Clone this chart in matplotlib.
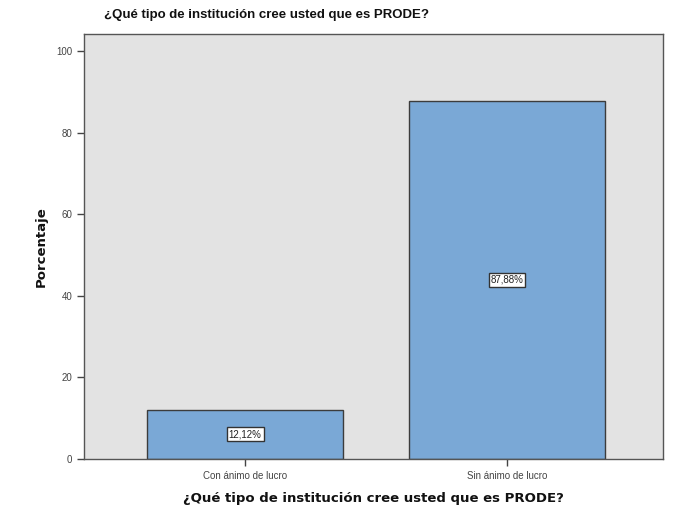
import matplotlib.pyplot as plt

categorias = ["Con ánimo de lucro", "Sin ánimo de lucro"]
porcentajes = [12.12, 87.88]
etiquetas = ["12,12%", "87,88%"]
yticks = [0, 20, 40, 60, 80, 100]

titulo = "¿Qué tipo de institución cree usted que es PRODE?"

#_____________________________________________________________________________
def main():

    plt.rcParams["font.family"] = ["Liberation Sans", "DejaVu Sans"]

    fig = plt.figure()
    fig.set_size_inches(6.8, 5.09)
    ax = fig.add_axes([84/680., 1-459/509., (663-84)/680., (459-34)/509.])

    ax.set_facecolor("#e3e3e3")

    xpos = list(range(len(categorias)))
    ax.bar(xpos, porcentajes, width=0.75, color="#7aa8d6", edgecolor="#3c3c3c", lw=1, zorder=2)

    for x, v, t in zip(xpos, porcentajes, etiquetas):
        ax.text(x, v/2., t, ha="center", va="center", fontsize=7, color="#222222",
                bbox=dict(boxstyle="square,pad=0.2", fc="white", ec="#333333", lw=1), zorder=3)

    ax.set_xlim(-0.615, 1.595)
    ax.set_ylim(0, 104.2)
    ax.set_xticks(xpos)
    ax.set_xticklabels(categorias, fontsize=7, color="#444444")
    ax.set_yticks(yticks)
    ax.set_yticklabels([str(v) for v in yticks], fontsize=7, color="#444444")
    ax.tick_params(direction="out", length=5, width=1, color="#444444")

    for s in ["bottom", "left", "top", "right"]:
        ax.spines[s].set_color("#555555")
        ax.spines[s].set_linewidth(1)

    ax.set_ylabel("Porcentaje", fontsize=9.5, fontweight="bold", family="DejaVu Sans",
                  color="#111111", labelpad=6)
    ax.set_xlabel(titulo, fontsize=9.5, fontweight="bold", family="DejaVu Sans",
                  color="#111111", labelpad=8)
    fig.text(266/680., 1-15/509., titulo, ha="center", va="center", fontsize=9.5,
             fontweight="bold", color="#111111")

    fig.savefig("out.png", dpi=100)
    plt.close()

#main

#_____________________________________________________________________________
if __name__ == "__main__":

    main()
